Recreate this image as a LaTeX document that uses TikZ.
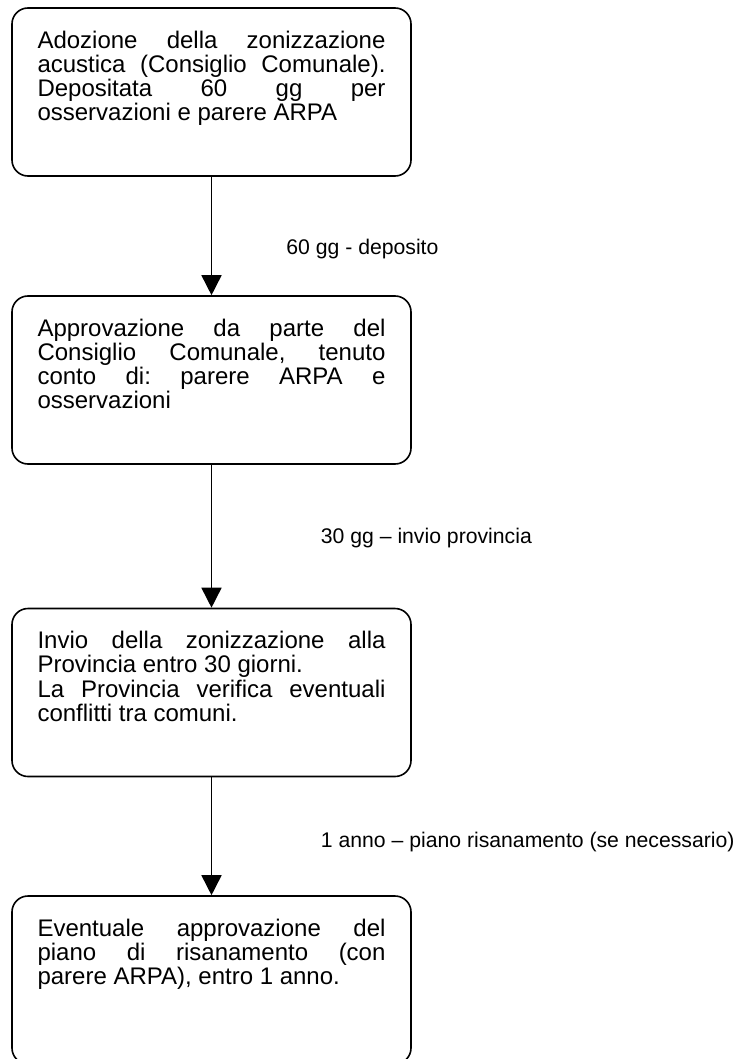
\documentclass[tikz,border=0pt]{standalone}
\usepackage{fontspec}
\setmainfont{Liberation Sans}
\usepackage{tikz}
\usetikzlibrary{arrows.meta}
\hbadness=10000

\newcommand{\steptext}[1]{\parbox[c][61.2pt][t]{174pt}{#1}}

\tikzset{
  stepbox/.style={draw, rectangle, rounded corners=8pt, line width=0.8pt,
    inner xsep=12.75pt, inner ysep=11.4pt,
    font=\fontsize{12}{12.1}\selectfont\frenchspacing},
  flow/.style={-{Triangle[length=10pt,width=10pt]}, line width=0.8pt},
  note/.style={anchor=base west, inner sep=0pt,
    font=\fontsize{10.6}{12}\selectfont}
}

\begin{document}
\begin{tikzpicture}[x=0.5pt,y=-0.5pt]
  \useasboundingbox (0,0) rectangle (739,1059);

  % steps
  \node[stepbox] (adozione) at (211.5,92) {\steptext{Adozione della zonizzazione\linebreak
    acustica (Consiglio Comunale).\linebreak Depositata 60 gg per\linebreak
    osservazioni e parere ARPA}};

  \node[stepbox] (approvazione) at (211.5,380) {\steptext{Approvazione da parte del\linebreak
    Consiglio Comunale, tenuto\linebreak conto di: parere ARPA e\linebreak osservazioni}};

  \node[stepbox] (invio) at (211.5,692.5) {\steptext{Invio della zonizzazione alla\linebreak
    Provincia entro 30 giorni.\\ La Provincia verifica eventuali\linebreak
    conflitti tra comuni.}};

  \node[stepbox] (risanamento) at (211.5,980) {\steptext{Eventuale approvazione del\linebreak
    piano di risanamento (con\linebreak parere ARPA), entro 1 anno.}};

  % arrows
  \draw[flow] (adozione) -- (approvazione);
  \draw[flow] (approvazione) -- (invio);
  \draw[flow] (invio) -- (risanamento);

  % times
  \node[note] (deposito) at (286,255) {60 gg - deposito};
  \node[note] (provincia) at (320.5,543) {30 gg – invio provincia};
  \node[note] (piano) at (320.5,847) {1 anno – piano risanamento (se necessario)};
\end{tikzpicture}
\end{document}
